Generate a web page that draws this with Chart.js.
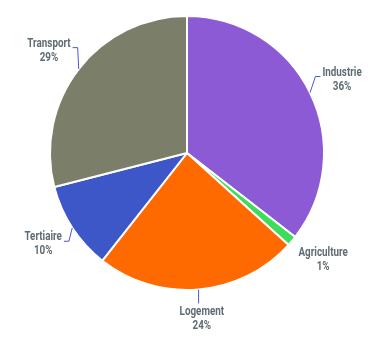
<!DOCTYPE html>
<html>
<head>
<meta charset="utf-8">
<script src="https://cdn.jsdelivr.net/npm/chart.js@4/dist/chart.umd.min.js"></script>
<style>
  html, body { margin: 0; padding: 0; background: #fff; }
  #wrap { width: 368px; height: 352px; }
</style>
</head>
<body>
<div id="wrap"><canvas id="myPieChart" width="368" height="352"></canvas></div>
<script>
const categories = ["Industrie", "Agriculture", "Logement", "Tertiaire", "Transport"];
const shares = [35.5, 1.2, 23.9, 10.4, 29.0];
const colors = ["#8c5ad5", "#3ddc5c", "#ff6a00", "#3d57c9", "#7b7f69"];

// no condensed face installed, so the text is squeezed horizontally
const labelFont = "bold 12px Roboto, sans-serif";
const squeeze = 0.82;

// labels outside the pie, with a leader line from the slice edge
const outsideLabels = {
    id: "outsideLabels",
    afterDatasetsDraw(chart) {
        const ctx = chart.ctx;
        const meta = chart.getDatasetMeta(0);
        const total = shares.reduce((a, b) => a + b, 0);
        ctx.save();
        ctx.font = labelFont;
        meta.data.forEach((arc, i) => {
            const p = arc.getProps(["x", "y", "startAngle", "endAngle", "outerRadius"], true);
            const mid = (p.startAngle + p.endAngle) / 2;
            const dx = Math.cos(mid);
            const dy = Math.sin(mid);
            const name = categories[i];
            const pct = Math.round(shares[i] / total * 100) + "%";
            const w = squeeze * Math.max(ctx.measureText(name).width, ctx.measureText(pct).width);
            const h = 28;
            const d = p.outerRadius + 16;
            const cx = p.x + dx * d + dx * w / 2;
            const cy = p.y + dy * d + dy * h / 2;
            const sx = p.x + dx * p.outerRadius;
            const sy = p.y + dy * p.outerRadius;

            if (shares[i] / total >= 0.02) {
                ctx.strokeStyle = "#4a58d0";
                ctx.lineWidth = 1;
                ctx.beginPath();
                ctx.moveTo(sx, sy);
                if (Math.abs(dx) > 0.5) {
                    const side = Math.sign(dx);
                    const ex = cx - side * (w / 2 + 2);
                    const ey = cy - 3;
                    ctx.lineTo(ex - side * 5, ey);
                    ctx.lineTo(ex, ey);
                } else {
                    const side = Math.sign(dy);
                    ctx.lineTo(sx, cy - side * (h / 2 + 2));
                }
                ctx.stroke();
            }

            ctx.fillStyle = "#5f6b72";
            ctx.textAlign = "center";
            ctx.textBaseline = "middle";
            ctx.save();
            ctx.translate(cx, cy);
            ctx.scale(squeeze, 1);
            ctx.fillText(name, 0, -7);
            ctx.fillText(pct, 0, 7);
            ctx.restore();
        });
        ctx.restore();
    }
};

const ctx = document.getElementById("myPieChart").getContext("2d");
new Chart(ctx, {
    type: "pie",
    data: {
        labels: categories,
        datasets: [
            {
                data: shares,
                backgroundColor: colors,
                borderColor: "#ffffff",
                borderWidth: 2,
            },
        ],
    },
    options: {
        responsive: false,
        animation: false,
        layout: { padding: { top: 15, bottom: 61, left: 49, right: 43 } },
        plugins: {
            legend: { display: false },
            tooltip: { enabled: false },
        },
    },
    plugins: [outsideLabels],
});
</script>
</body>
</html>
